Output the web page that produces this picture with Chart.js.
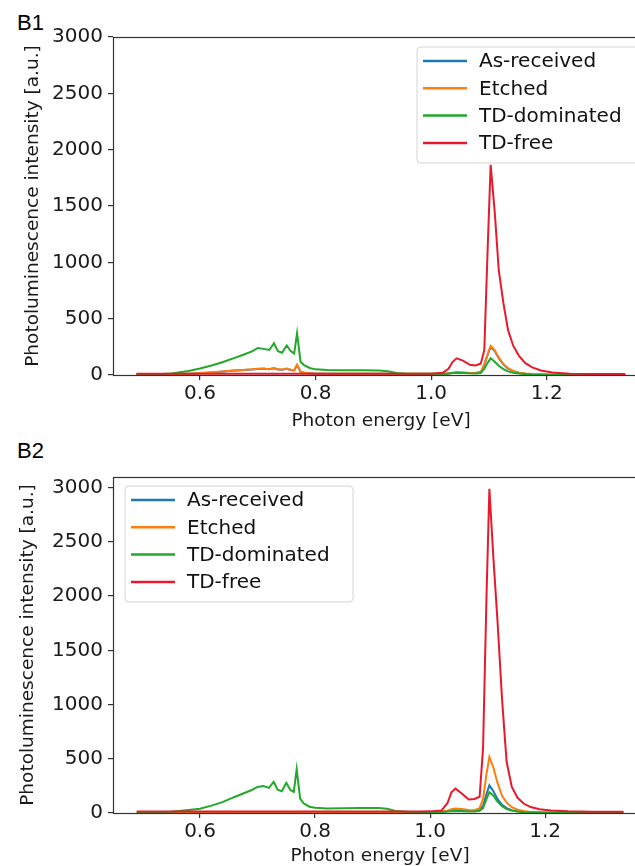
<!DOCTYPE html>
<html>
<head>
<meta charset="utf-8">
<script src="https://cdn.jsdelivr.net/npm/chart.js@4.4.1/dist/chart.umd.min.js"></script>
<style>
  html, body { margin: 0; padding: 0; background: #fff; overflow: hidden; width: 635px; height: 866px; }
  canvas { position: absolute; left: 0; }
  #panel1 { top: 0; }
  #panel2 { top: 440px; }
  .tag { position: absolute; font-family: 'Liberation Sans', Arial, sans-serif; font-size: 22px; line-height: 22px; color: #000; }
</style>
</head>
<body>
<div class="tag" style="left:17px; top:12px;">B1</div>
<div class="tag" style="left:17px; top:440px;">B2</div>
<canvas id="panel1" width="660" height="432"></canvas>
<canvas id="panel2" width="660" height="427"></canvas>
<script>
// photon energy grid [eV]
const energy = [
  0.49, 0.52, 0.55, 0.58, 0.60, 0.62, 0.64, 0.66, 0.675, 0.69,
  0.70, 0.71, 0.72, 0.728, 0.735, 0.742, 0.75, 0.757, 0.763, 0.768,
  0.774, 0.78, 0.79, 0.80, 0.82, 0.85, 0.88, 0.91, 0.925, 0.94,
  0.96, 0.98, 1.00, 1.02, 1.03, 1.037, 1.044, 1.055, 1.067, 1.077,
  1.086, 1.092, 1.098, 1.103, 1.11, 1.117, 1.125, 1.133, 1.142, 1.152,
  1.163, 1.175, 1.19, 1.21, 1.24, 1.28, 1.336
];

const seriesNames = ['As-received', 'Etched', 'TD-dominated', 'TD-free'];
const seriesColors = ['#1f77b4', '#ff7f0e', '#22a82a', '#e8192c'];

const xTicks = [0.6, 0.8, 1.0, 1.2];
const yTicks = [0, 500, 1000, 1500, 2000, 2500, 3000];

// B1
const b1AsReceived = [
  2, 3, 5, 10, 16, 23, 31, 39, 44, 49,
  54, 56, 51, 60, 49, 47, 56, 45, 41, 88,
  29, 21, 15, 12, 11, 11, 11, 11, 10, 9,
  9, 9, 9, 11, 14, 18, 23, 21, 17, 17,
  26, 90, 182, 248, 212, 150, 94, 57, 34, 20,
  12, 7, 4, 2, 1, 1, 1
];
const b1Etched = [
  2, 3, 5, 11, 17, 24, 32, 40, 45, 50,
  55, 57, 52, 62, 50, 48, 58, 46, 42, 92,
  30, 22, 16, 13, 12, 12, 12, 12, 11, 10,
  10, 10, 10, 12, 15, 19, 24, 22, 18, 18,
  28, 95, 190, 258, 220, 155, 98, 60, 36, 21,
  13, 8, 5, 3, 2, 1, 1
];
const b1TDdominated = [
  3, 5, 13, 35, 58, 85, 115, 152, 180, 210,
  240, 232, 222, 282, 212, 198, 262, 212, 190, 372,
  118, 88, 62, 50, 44, 42, 42, 40, 34, 18,
  12, 10, 10, 11, 14, 18, 20, 18, 15, 14,
  18, 55, 110, 148, 118, 82, 52, 32, 20, 13,
  8, 5, 3, 2, 1, 1, 1
];
const b1TDfree = [
  12, 12, 11, 11, 11, 10, 10, 10, 10, 10,
  10, 10, 10, 10, 10, 10, 10, 10, 10, 10,
  10, 10, 10, 10, 10, 10, 10, 10, 10, 10,
  10, 10, 12, 20, 55, 115, 148, 128, 90, 85,
  102, 220, 1150, 1865, 1450, 930, 640, 400, 260, 170,
  105, 68, 40, 22, 12, 9, 8
];

// B2
const b2AsReceived = [
  8, 8, 8, 8, 8, 8, 8, 8, 8, 8,
  8, 8, 8, 8, 8, 8, 8, 8, 8, 8,
  8, 8, 8, 8, 8, 8, 8, 8, 8, 8,
  8, 8, 8, 11, 16, 24, 30, 27, 20, 18,
  28, 65, 175, 255, 200, 130, 75, 45, 26, 15,
  9, 6, 4, 3, 2, 2, 2
];
const b2Etched = [
  10, 10, 10, 10, 10, 10, 10, 10, 10, 10,
  10, 10, 10, 10, 10, 10, 10, 10, 10, 10,
  10, 10, 10, 10, 10, 10, 10, 10, 10, 10,
  10, 10, 10, 14, 22, 34, 42, 38, 28, 26,
  45, 130, 360, 516, 420, 280, 160, 95, 55, 30,
  18, 10, 6, 4, 3, 2, 2
];
const b2TDdominated = [
  3, 5, 12, 28, 40, 68, 102, 148, 180, 212,
  240, 248, 232, 288, 215, 200, 278, 212, 194, 405,
  133, 90, 58, 48, 42, 44, 46, 45, 40, 18,
  12, 10, 10, 11, 13, 16, 18, 16, 14, 14,
  20, 45, 130, 192, 160, 105, 62, 36, 22, 13,
  8, 5, 3, 2, 1, 1, 1
];
const b2TDfree = [
  14, 14, 14, 14, 14, 14, 14, 14, 14, 14,
  14, 14, 14, 14, 14, 14, 14, 14, 14, 14,
  14, 14, 14, 14, 14, 14, 14, 14, 14, 14,
  14, 14, 15, 24, 90, 190, 225, 180, 125, 130,
  150, 600, 2000, 2990, 2350, 1780, 1050, 470, 240, 140,
  85, 55, 35, 22, 15, 12, 12
];

Chart.defaults.font.family = "'DejaVu Sans', sans-serif";
Chart.defaults.color = '#1a1a1a';

// axes frame (matplotlib style box)
const framePlugin = {
  id: 'frame',
  afterDatasetsDraw(chart) {
    const { ctx, chartArea: a } = chart;
    ctx.save();
    ctx.strokeStyle = '#333';
    ctx.lineWidth = 1.2;
    ctx.strokeRect(Math.round(a.left) + 0.5, Math.round(a.top) + 0.5,
      Math.round(a.right - a.left), Math.round(a.bottom - a.top));
    ctx.restore();
  }
};

// legend with a frame, like matplotlib
const boxLegendPlugin = {
  id: 'boxLegend',
  afterDraw(chart, args, opts) {
    const ctx = chart.ctx;
    const { x, y, w, h } = opts;
    const r = 4;
    ctx.save();
    ctx.beginPath();
    ctx.moveTo(x + r, y);
    ctx.arcTo(x + w, y, x + w, y + h, r);
    ctx.arcTo(x + w, y + h, x, y + h, r);
    ctx.arcTo(x, y + h, x, y, r);
    ctx.arcTo(x, y, x + w, y, r);
    ctx.closePath();
    ctx.fillStyle = 'rgba(255,255,255,0.85)';
    ctx.fill();
    ctx.strokeStyle = '#d4d4d4';
    ctx.lineWidth = 1;
    ctx.stroke();
    ctx.font = "20px 'DejaVu Sans'";
    ctx.textBaseline = 'middle';
    chart.data.datasets.forEach((ds, i) => {
      const ly = y + 14 + i * 27.3;
      ctx.strokeStyle = ds.borderColor;
      ctx.lineWidth = 2.5;
      ctx.beginPath();
      ctx.moveTo(x + 6, ly);
      ctx.lineTo(x + 50, ly);
      ctx.stroke();
      ctx.fillStyle = '#111';
      ctx.fillText(ds.label, x + 62, ly + 1);
    });
    ctx.restore();
  }
};

function makePanel(id, series, opts) {
  const datasets = series.map((vals, i) => ({
    label: seriesNames[i],
    data: energy.map((e, k) => ({ x: e, y: vals[k] })),
    borderColor: seriesColors[i],
    backgroundColor: seriesColors[i],
    borderWidth: 2,
    pointRadius: 0,
    tension: 0,
    order: series.length - i
  }));

  new Chart(document.getElementById(id).getContext('2d'), {
    type: 'line',
    data: { datasets },
    options: {
      responsive: false,
      animation: false,
      layout: { padding: { left: 0, top: opts.top, right: opts.right, bottom: 0 } },
      plugins: {
        legend: { display: false },
        tooltip: { enabled: false },
        boxLegend: opts.legend
      },
      scales: {
        x: {
          type: 'linear',
          min: opts.xMin,
          max: opts.xMax,
          afterBuildTicks: s => { s.ticks = xTicks.map(v => ({ value: v })); },
          afterFit: s => { s.height = opts.xHeight; },
          ticks: {
            font: { size: 20 },
            padding: 2,
            maxRotation: 0,
            callback: v => v.toFixed(1)
          },
          grid: { drawOnChartArea: false, drawTicks: true, tickLength: 5, color: '#333', lineWidth: 1.2 },
          border: { display: false },
          title: { display: true, text: 'Photon energy [eV]', font: { size: 18.5 }, padding: 0 }
        },
        y: {
          min: 0,
          max: opts.yMax,
          afterBuildTicks: s => { s.ticks = yTicks.map(v => ({ value: v })); },
          afterFit: s => { s.width = 113; },
          ticks: { font: { size: 20 }, padding: 5, callback: v => String(v) },
          grid: { drawOnChartArea: false, drawTicks: true, tickLength: 5, color: '#333', lineWidth: 1.2 },
          border: { display: false },
          title: {
            display: true,
            text: 'Photoluminescence intensity [a.u.]',
            font: { size: 18.5 },
            padding: { top: opts.yTitlePad, bottom: 0 }
          }
        }
      }
    },
    plugins: [framePlugin, boxLegendPlugin]
  });
}

makePanel('panel1', [b1AsReceived, b1Etched, b1TDdominated, b1TDfree], {
  top: 37, right: 11, xHeight: 57, xMin: 0.4495, xMax: 1.377, yMax: 3000, yTitlePad: 22,
  legend: { x: 417, y: 47, w: 228, h: 116 }
});

makePanel('panel2', [b2AsReceived, b2Etched, b2TDdominated, b2TDfree], {
  top: 37, right: 13, xHeight: 54, xMin: 0.4487, xMax: 1.377, yMax: 3098, yTitlePad: 17,
  legend: { x: 125, y: 46, w: 228, h: 116 }
});
</script>
</body>
</html>
